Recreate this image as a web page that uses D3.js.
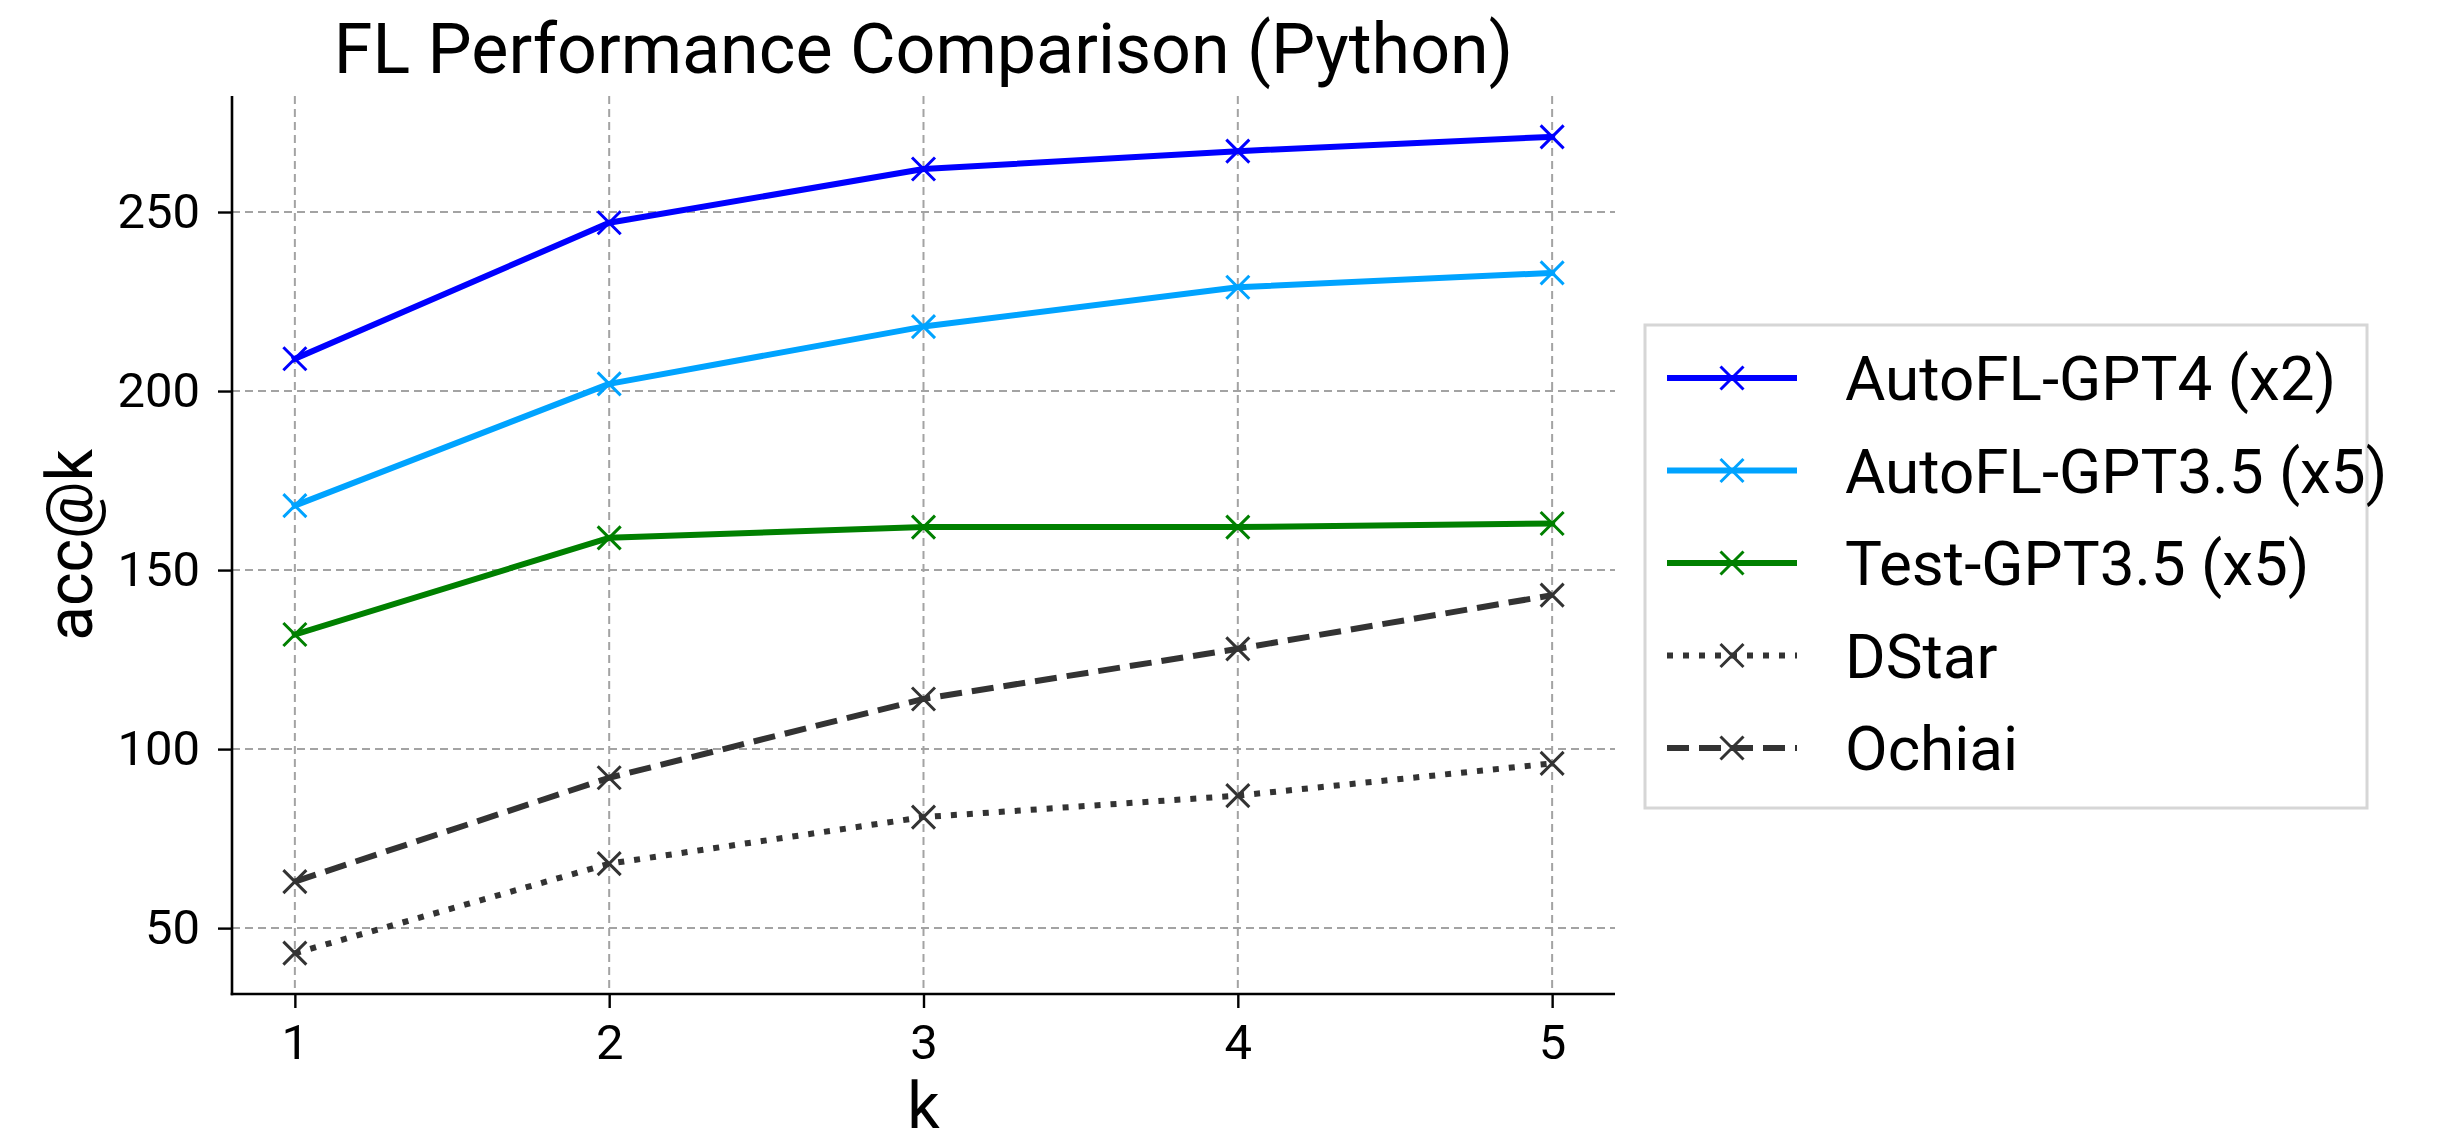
<!DOCTYPE html>
<html>
<head>
<meta charset="utf-8">
<script src="https://cdn.jsdelivr.net/npm/d3@7"></script>
<style>
  html, body { margin: 0; padding: 0; background: #ffffff; }
  svg { display: block; font-family: Roboto, "DejaVu Sans", sans-serif; }
</style>
</head>
<body>
<svg id="chart" width="2438" height="1135"></svg>
<script>
// ---- data ----
const kValues = [1, 2, 3, 4, 5];
const seriesNames = ["AutoFL-GPT4 (x2)", "AutoFL-GPT3.5 (x5)", "Test-GPT3.5 (x5)", "DStar", "Ochiai"];
const autoflGpt4 = [209, 247, 262, 267, 271];
const autoflGpt35 = [168, 202, 218, 229, 233];
const testGpt35 = [132, 159, 162, 162, 163];
const dstar = [43, 68, 81, 87, 96];
const ochiai = [63, 92, 114, 128, 143];
const yTicks = [50, 100, 150, 200, 250];
const titleText = "FL Performance Comparison (Python)";
const xLabel = "k";
const yLabel = "acc@k";

(function () {
// ---- styles ----
const seriesValues = [autoflGpt4, autoflGpt35, testGpt35, dstar, ochiai];
const seriesColors = ["#0000ff", "#00a3ff", "#008000", "#333333", "#333333"];
const seriesDash = [null, null, null, "6,10", "22,10"];

const svg = d3.select("#chart");
const pLeft = 232, pRight = 1615, pTop = 96, pBottom = 994;

const allVals = seriesValues.flat();
const yMin = d3.min(allVals), yMax = d3.max(allVals);
const yPad = (yMax - yMin) * 0.05;
const x = d3.scaleLinear().domain([0.8, 5.2]).range([pLeft, pRight]);
const y = d3.scaleLinear().domain([yMin - yPad, yMax + yPad]).range([pBottom, pTop]);

// grid
const grid = svg.append("g");
grid.selectAll("line.gx").data(kValues).join("line")
  .attr("x1", d => x(d)).attr("x2", d => x(d))
  .attr("y1", pTop).attr("y2", pBottom)
  .attr("stroke", "#a3a3a3").attr("stroke-width", 2).attr("stroke-dasharray", "8,5");
grid.selectAll("line.gy").data(yTicks).join("line")
  .attr("x1", pLeft).attr("x2", pRight)
  .attr("y1", d => y(d)).attr("y2", d => y(d))
  .attr("stroke", "#a3a3a3").attr("stroke-width", 2).attr("stroke-dasharray", "8,5");

// axes
const xAxis = svg.append("g").attr("transform", `translate(0,${pBottom})`)
  .call(d3.axisBottom(x).tickValues(kValues).tickFormat(d3.format("d")).tickSize(14).tickPadding(16).tickSizeOuter(0));
const yAxis = svg.append("g").attr("transform", `translate(${pLeft},0)`)
  .call(d3.axisLeft(y).tickValues(yTicks).tickFormat(d3.format("d")).tickSize(14).tickPadding(18).tickSizeOuter(0));
[xAxis, yAxis].forEach(a => {
  a.select(".domain").attr("stroke", "#000").attr("stroke-width", 2.6);
  a.selectAll(".tick line").attr("stroke", "#000").attr("stroke-width", 2.4);
  a.selectAll(".tick text").attr("fill", "#000").attr("font-size", 49).attr("font-family", "Roboto");
});
xAxis.select(".domain").attr("d", `M${pLeft - 1.3},0H${pRight}`);
yAxis.select(".domain").attr("d", `M0,${pTop}V${pBottom + 1.3}`);

// lines
const line = d3.line().x((d, i) => x(kValues[i])).y(d => y(d));
const markerSize = 11.5;
seriesValues.forEach((vals, si) => {
  const g = svg.append("g");
  g.append("path").datum(vals)
    .attr("d", line)
    .attr("fill", "none")
    .attr("stroke", seriesColors[si])
    .attr("stroke-width", 6)
    .attr("stroke-linejoin", "round")
    .attr("stroke-linecap", seriesDash[si] ? "butt" : "square")
    .attr("stroke-dasharray", seriesDash[si]);
  g.selectAll("path.m").data(vals).join("path")
    .attr("d", (d, i) => {
      const cx = x(kValues[i]), cy = y(d), s = markerSize;
      return `M${cx - s},${cy - s}L${cx + s},${cy + s}M${cx - s},${cy + s}L${cx + s},${cy - s}`;
    })
    .attr("stroke", seriesColors[si]).attr("stroke-width", 3).attr("fill", "none");
});

// title and labels
svg.append("text").attr("x", (pLeft + pRight) / 2).attr("y", 73)
  .attr("text-anchor", "middle").attr("font-size", 70).attr("fill", "#000").text(titleText);
svg.append("text").attr("x", (pLeft + pRight) / 2).attr("y", 1128)
  .attr("text-anchor", "middle").attr("font-size", 64).attr("fill", "#000").text(xLabel);
svg.append("text").attr("transform", `translate(92,${(pTop + pBottom) / 2}) rotate(-90)`)
  .attr("text-anchor", "middle").attr("font-size", 64).attr("fill", "#000").text(yLabel);

// legend
const lg = svg.append("g");
const lgLeft = 1645, lgTop = 325, lgRight = 2367, lgBottom = 808;
lg.append("rect").attr("x", lgLeft).attr("y", lgTop)
  .attr("width", lgRight - lgLeft).attr("height", lgBottom - lgTop)
  .attr("fill", "#fff").attr("stroke", "#d6d6d6").attr("stroke-width", 3);
const rowY = i => 378 + i * 92.5;
seriesNames.forEach((name, i) => {
  const yy = rowY(i);
  lg.append("line").attr("x1", 1667).attr("x2", 1797).attr("y1", yy).attr("y2", yy)
    .attr("stroke", seriesColors[i]).attr("stroke-width", 6)
    .attr("stroke-dasharray", seriesDash[i]);
  const cx = 1732, s = markerSize;
  lg.append("path").attr("d", `M${cx - s},${yy - s}L${cx + s},${yy + s}M${cx - s},${yy + s}L${cx + s},${yy - s}`)
    .attr("stroke", seriesColors[i]).attr("stroke-width", 3);
  lg.append("text").attr("x", 1845).attr("y", yy + 22)
    .attr("font-size", 62).attr("fill", "#000").text(name);
});
})();
</script>
</body>
</html>
